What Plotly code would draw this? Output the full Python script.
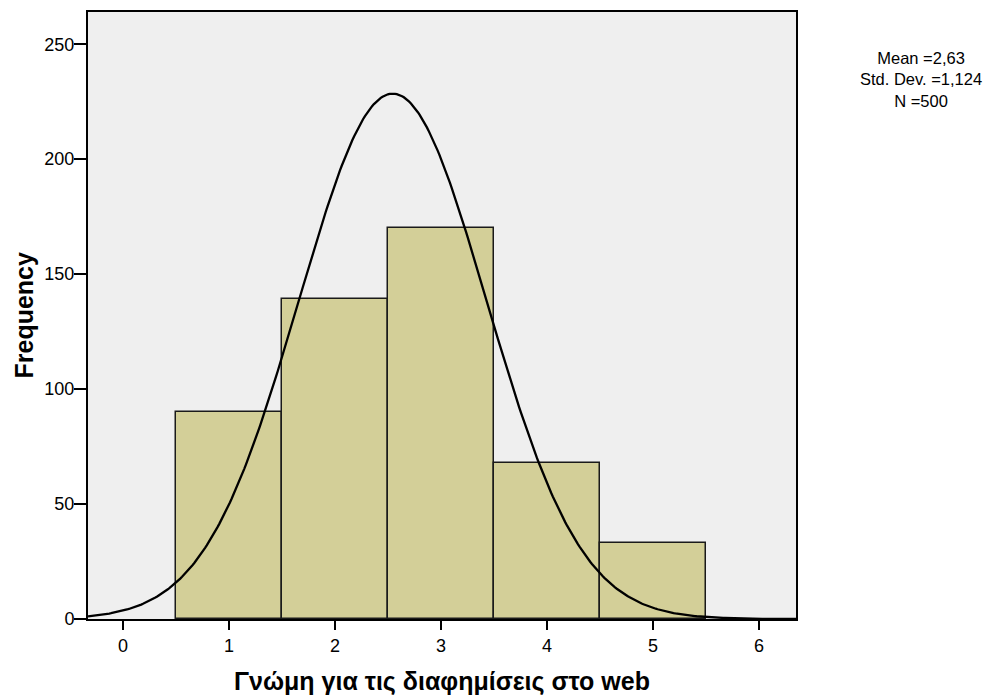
import numpy as np
import plotly.graph_objects as go

# Histogram of responses (bin centres and counts)
categories = [1, 2, 3, 4, 5]
frequencies = [90, 139, 170, 68, 33]

# Normal curve overlay as drawn on the chart
curve_center = 2.545
curve_spread = 0.885
curve_peak = 228.5

# Summary statistics box
stats_lines = ["Mean =2,63", "Std. Dev. =1,124", "N =500"]

x_ticks = [0, 1, 2, 3, 4, 5, 6]
y_ticks = [0, 50, 100, 150, 200, 250]
x_title = "Γνώμη για τις διαφημίσεις στο web"
y_title = "Frequency"

x_range = [-0.33, 6.35]
y_range = [0, 264]

font_family = "Liberation Sans, Arial, sans-serif"

fig = go.Figure()

fig.add_trace(go.Bar(
    x=categories,
    y=frequencies,
    width=1,
    marker=dict(color="#D3CF98", line=dict(color="#1a1a1a", width=1.5)),
    hoverinfo="x+y",
))

xs = np.linspace(x_range[0], x_range[1], 400)
ys = curve_peak * np.exp(-0.5 * ((xs - curve_center) / curve_spread) ** 2)
fig.add_trace(go.Scatter(
    x=xs, y=ys, mode="lines",
    line=dict(color="#000000", width=2.3),
    hoverinfo="skip",
))

fig.update_layout(
    width=993, height=697,
    margin=dict(l=88, r=197, t=10, b=78),
    paper_bgcolor="#FFFFFF",
    plot_bgcolor="#EFEFEF",
    showlegend=False,
    bargap=0,
    font=dict(family=font_family, color="#000000"),
    xaxis=dict(
        range=x_range, tickvals=x_ticks, ticks="outside", ticklen=9,
        tickwidth=2, tickcolor="#000000", showgrid=False, zeroline=False,
        showline=True, linecolor="#000000", linewidth=2, mirror=True,
        tickfont=dict(size=18, family=font_family, color="#000000"),
    ),
    yaxis=dict(
        range=y_range, tickvals=y_ticks, ticks="outside", ticklen=12,
        tickwidth=2, tickcolor="#000000", showgrid=False, zeroline=False,
        showline=True, linecolor="#000000", linewidth=2, mirror=True,
        ticklabelstandoff=-4,
        tickfont=dict(size=18, family=font_family, color="#000000"),
    ),
)

annotations = [
    dict(text="<b>" + x_title + "</b>", xref="paper", yref="paper",
         x=0.5, y=-0.1034, xanchor="center", yanchor="middle", showarrow=False,
         font=dict(size=25, family=font_family, color="#000000")),
    dict(text="<b>" + y_title + "</b>", xref="paper", yref="paper",
         x=-0.0918, y=0.5, xanchor="center", yanchor="middle", textangle=-90,
         showarrow=False, font=dict(size=25, family=font_family, color="#000000")),
    dict(text="<br>".join(stats_lines), xref="paper", yref="paper",
         x=1.176, y=0.889, xanchor="center", yanchor="middle", align="center",
         showarrow=False, font=dict(size=16.5, family=font_family, color="#000000")),
]
fig.update_layout(annotations=annotations)

fig.write_html("out.html")
